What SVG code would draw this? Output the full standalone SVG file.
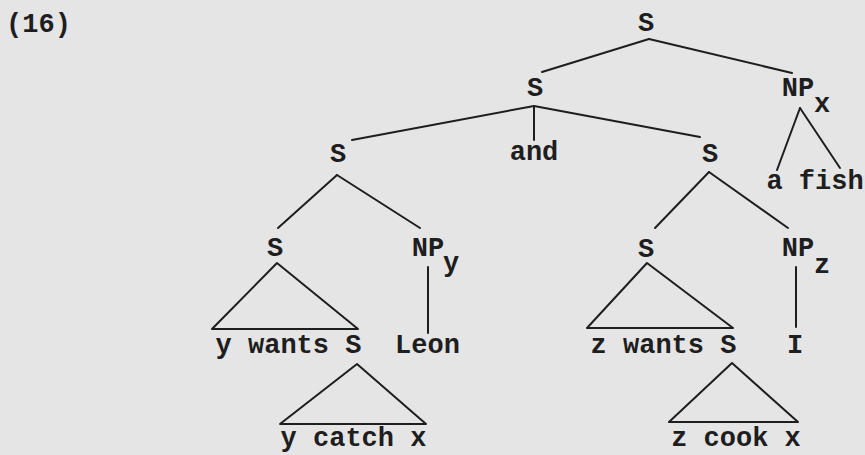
<svg xmlns="http://www.w3.org/2000/svg" width="865" height="455" viewBox="0 0 865 455">
  <style>
    .t { font-family: "Liberation Mono", "Courier New", monospace; font-weight: bold; font-size: 27px; fill: #1e1e1e; text-anchor: middle; }
    .e { stroke: #1e1e1e; stroke-width: 2; fill: none; stroke-linecap: round; stroke-linejoin: round; }
  </style>
  <rect x="0" y="0" width="865" height="455" fill="#e5e5e5"/>
  <g id="label-16"><text class="t" x="38.5" y="32">(16)</text></g>

  <g id="connectors">
    <line class="e" x1="649" y1="39" x2="542" y2="72"/>
    <line class="e" x1="649" y1="39" x2="792" y2="73"/>
    <line class="e" x1="534" y1="106" x2="352" y2="140"/>
    <line class="e" x1="534" y1="106" x2="534" y2="140"/>
    <line class="e" x1="534" y1="106" x2="700" y2="137"/>
    <line class="e" x1="800" y1="108" x2="777" y2="170"/>
    <line class="e" x1="800" y1="108" x2="840" y2="168"/>
    <line class="e" x1="337" y1="175" x2="278" y2="228"/>
    <line class="e" x1="337" y1="175" x2="420" y2="228"/>
    <line class="e" x1="709" y1="172" x2="655" y2="228"/>
    <line class="e" x1="709" y1="172" x2="788" y2="228"/>
    <polygon class="e" points="277,263 212,329 358,329"/>
    <line class="e" x1="428" y1="267" x2="428" y2="333"/>
    <polygon class="e" points="647,263 587,328 733,328"/>
    <line class="e" x1="796" y1="267" x2="796" y2="327"/>
    <polygon class="e" points="357,364 280,424 426,424"/>
    <polygon class="e" points="732,363 669,422 798,422"/>
  </g>

  <g id="s-root"><text class="t" x="646" y="31">S</text></g>
  <g id="s-conj"><text class="t" x="535" y="96">S</text></g>
  <g id="np-x"><text class="t" x="798" y="96">NP</text><text class="t" x="822" y="112">x</text></g>
  <g id="s-left"><text class="t" x="338" y="162">S</text></g>
  <g id="and"><text class="t" x="534" y="160">and</text></g>
  <g id="s-right"><text class="t" x="710" y="162">S</text></g>
  <g id="a-fish"><text class="t" x="815" y="189">a fish</text></g>
  <g id="s-left-inner"><text class="t" x="275" y="256">S</text></g>
  <g id="np-y"><text class="t" x="428" y="256">NP</text><text class="t" x="451" y="271">y</text></g>
  <g id="s-right-inner"><text class="t" x="646" y="257">S</text></g>
  <g id="np-z"><text class="t" x="798" y="256">NP</text><text class="t" x="822" y="273">z</text></g>
  <g id="y-wants-s"><text class="t" x="288.5" y="353">y wants S</text></g>
  <g id="leon"><text class="t" x="427.5" y="353">Leon</text></g>
  <g id="z-wants-s"><text class="t" x="663.5" y="353">z wants S</text></g>
  <g id="i"><text class="t" x="795" y="353">I</text></g>
  <g id="y-catch-x"><text class="t" x="353.5" y="446">y catch x</text></g>
  <g id="z-cook-x"><text class="t" x="736" y="446">z cook x</text></g>
</svg>
